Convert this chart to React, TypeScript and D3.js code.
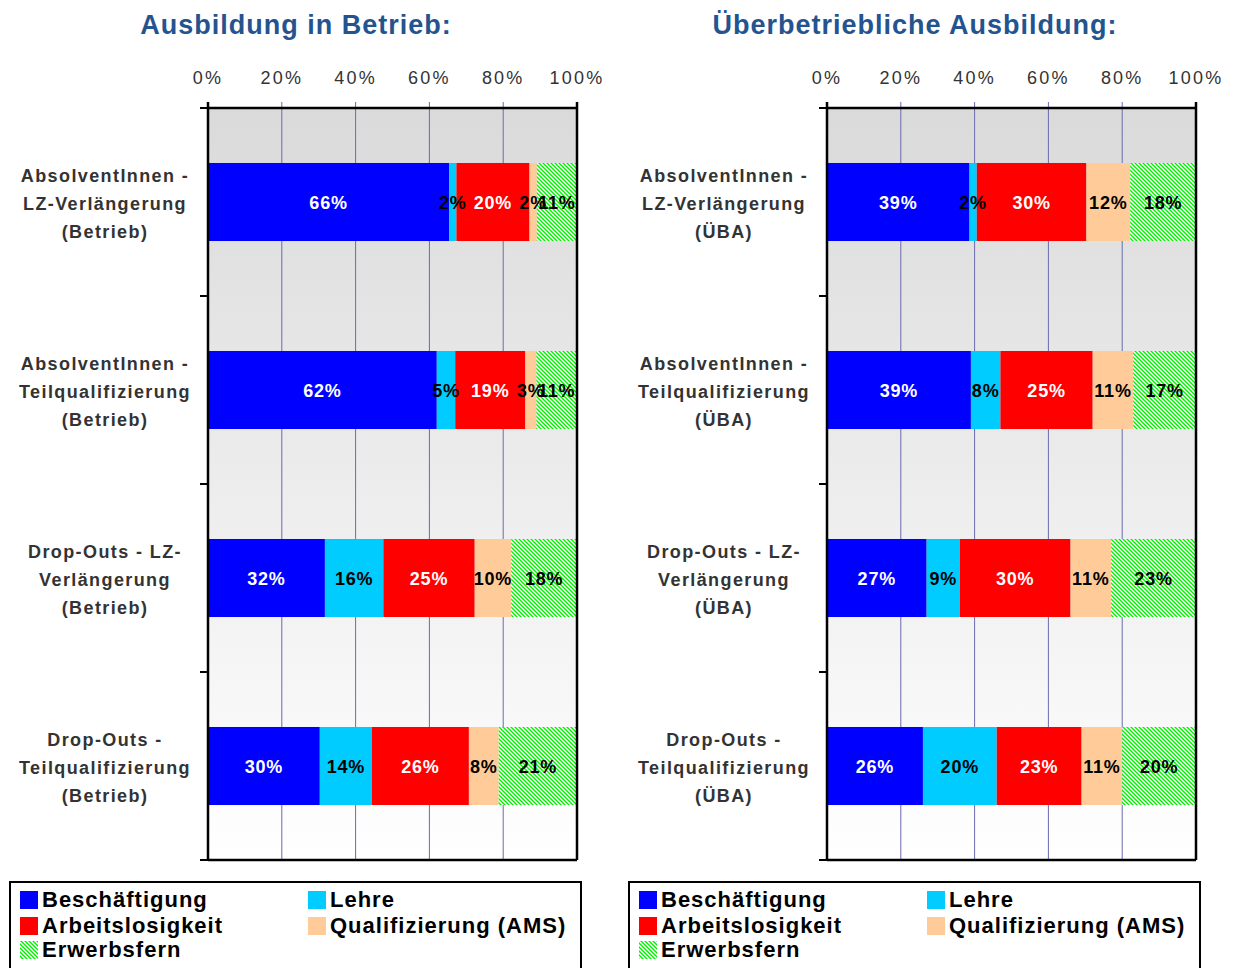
import * as d3 from "d3";

const seriesNames = ["Beschäftigung", "Lehre", "Arbeitslosigkeit", "Qualifizierung (AMS)", "Erwerbsfern"];
const seriesColors = ["#0000ff", "#00ccff", "#ff0000", "#ffcc99", "url(#hatch)"];
const labelColors = ["#ffffff", "#000000", "#ffffff", "#000000", "#000000"];

const betriebCategories = [
  ["AbsolventInnen -", "LZ-Verlängerung", "(Betrieb)"],
  ["AbsolventInnen -", "Teilqualifizierung", "(Betrieb)"],
  ["Drop-Outs - LZ-", "Verlängerung", "(Betrieb)"],
  ["Drop-Outs -", "Teilqualifizierung", "(Betrieb)"],
];
const betriebValues = [
  [66, 2, 20, 2, 11],
  [62, 5, 19, 3, 11],
  [32, 16, 25, 10, 18],
  [30, 14, 26, 8, 21],
];

const ubaCategories = [
  ["AbsolventInnen -", "LZ-Verlängerung", "(ÜBA)"],
  ["AbsolventInnen -", "Teilqualifizierung", "(ÜBA)"],
  ["Drop-Outs - LZ-", "Verlängerung", "(ÜBA)"],
  ["Drop-Outs -", "Teilqualifizierung", "(ÜBA)"],
];
const ubaValues = [
  [39, 2, 30, 12, 18],
  [39, 8, 25, 11, 17],
  [27, 9, 30, 11, 23],
  [26, 20, 23, 11, 20],
];

const xTicks = [0, 0.2, 0.4, 0.6, 0.8, 1];

const FONT = "'Liberation Sans', Arial, Helvetica, sans-serif";
const TOP = 108;
const BOTTOM = 860;
const PW = 369;

function Panel({ x0, title, categories, values }: { x0: number; title: string; categories: string[][]; values: number[][] }) {
  const x = d3.scaleLinear().domain([0, 1]).range([x0, x0 + PW]);
  const y = d3
    .scaleBand<number>()
    .domain(categories.map((_, i) => i))
    .range([TOP, BOTTOM])
    .paddingInner(0.585)
    .paddingOuter(0.2925);
  const step = y.step();

  const rows = values.map((v) => {
    const o: Record<string, number> = {};
    v.forEach((d, i) => (o[i] = d));
    return o;
  });
  const stack = d3
    .stack<Record<string, number>>()
    .keys(seriesNames.map((_, i) => String(i)))
    .offset(d3.stackOffsetExpand);
  const series = stack(rows);

  const legendX = x0 - 198;
  const legendCols = [legendX + 10, legendX + 298];
  const legendRows = [899, 925, 949];

  return (
    <g>
      <text
        x={x0 + 88}
        y={34}
        textAnchor="middle"
        fontFamily={FONT}
        fontWeight="bold"
        fontSize={27}
        letterSpacing={1}
        fill="#24548f"
      >
        {title}
      </text>

      <rect x={x0} y={TOP} width={PW} height={BOTTOM - TOP} fill="url(#bg)" />

      {xTicks.slice(1, -1).map((t) => (
        <line key={t} x1={x(t)} x2={x(t)} y1={TOP - 6} y2={BOTTOM} stroke="#6a6ab0" strokeWidth={1} />
      ))}

      {xTicks.map((t) => (
        <text
          key={"l" + t}
          x={x(t)}
          y={84}
          textAnchor="middle"
          fontFamily={FONT}
          fontSize={18}
          letterSpacing={2.2}
          fill="#333"
        >
          {Math.round(t * 100) + "%"}
        </text>
      ))}

      {series.map((s, si) =>
        s.map((d, ri) => (
          <rect
            key={si + "-" + ri}
            x={x(d[0])}
            y={y(ri)}
            width={x(d[1]) - x(d[0])}
            height={y.bandwidth()}
            fill={seriesColors[si]}
          />
        ))
      )}

      {series.map((s, si) =>
        s.map((d, ri) => (
          <text
            key={"t" + si + "-" + ri}
            x={(x(d[0]) + x(d[1])) / 2}
            y={(y(ri) ?? 0) + y.bandwidth() / 2 + 7}
            textAnchor="middle"
            fontFamily={FONT}
            fontWeight="bold"
            fontSize={18}
            letterSpacing={0.8}
            fill={labelColors[si]}
          >
            {values[ri][si] + "%"}
          </text>
        ))
      )}

      {categories.map((lines, ri) =>
        lines.map((ln, li) => (
          <text
            key={"c" + ri + "-" + li}
            x={x0 - 103}
            y={(y(ri) ?? 0) + y.bandwidth() / 2 - 20 + li * 28}
            textAnchor="middle"
            fontFamily={FONT}
            fontWeight="bold"
            fontSize={18}
            letterSpacing={1.4}
            fill="#333"
          >
            {ln}
          </text>
        ))
      )}

      {/* axes */}
      <line x1={x0} x2={x0 + PW} y1={TOP} y2={TOP} stroke="#000" strokeWidth={2.5} />
      <line x1={x0} x2={x0 + PW} y1={BOTTOM} y2={BOTTOM} stroke="#000" strokeWidth={2.5} />
      <line x1={x0} x2={x0} y1={TOP} y2={BOTTOM} stroke="#000" strokeWidth={2.5} />
      <line x1={x0 + PW} x2={x0 + PW} y1={TOP - 6} y2={BOTTOM} stroke="#000" strokeWidth={2.5} />
      <line x1={x0} x2={x0} y1={TOP - 6} y2={TOP} stroke="#000" strokeWidth={2.5} />
      {d3.range(categories.length + 1).map((i) => (
        <line key={"yt" + i} x1={x0 - 8} x2={x0} y1={TOP + i * step} y2={TOP + i * step} stroke="#000" strokeWidth={2} />
      ))}

      {/* legend */}
      <rect x={legendX} y={882} width={571} height={100} fill="#fff" stroke="#000" strokeWidth={2} />
      {seriesNames.map((name, i) => {
        const lx = legendCols[i % 2];
        const ly = legendRows[Math.floor(i / 2)];
        return (
          <g key={name}>
            <rect x={lx} y={ly - 8} width={18} height={18} fill={seriesColors[i]} />
            <text
              x={lx + 22}
              y={ly + 8}
              fontFamily={FONT}
              fontWeight="bold"
              fontSize={22}
              letterSpacing={1}
              fill="#000"
            >
              {name}
            </text>
          </g>
        );
      })}
    </g>
  );
}

export default function App() {
  return (
    <svg width={1234} height={968} style={{ position: "absolute", left: 0, top: 0, background: "#fff" }}>
      <defs>
        <linearGradient id="bg" x1="0" y1="0" x2="0" y2="1">
          <stop offset="0" stopColor="#dadada" />
          <stop offset="1" stopColor="#ffffff" />
        </linearGradient>
        <pattern id="hatch" patternUnits="userSpaceOnUse" width={4} height={4}>
          <rect width={4} height={4} fill="#fff" />
          <path d="M-1,-1 L5,5 M-1,3 L1,5 M3,-1 L5,1" stroke="#00f000" strokeWidth={1.4} />
        </pattern>
      </defs>
      <Panel x0={208} title="Ausbildung in Betrieb:" categories={betriebCategories} values={betriebValues} />
      <Panel x0={827} title="Überbetriebliche Ausbildung:" categories={ubaCategories} values={ubaValues} />
    </svg>
  );
}
